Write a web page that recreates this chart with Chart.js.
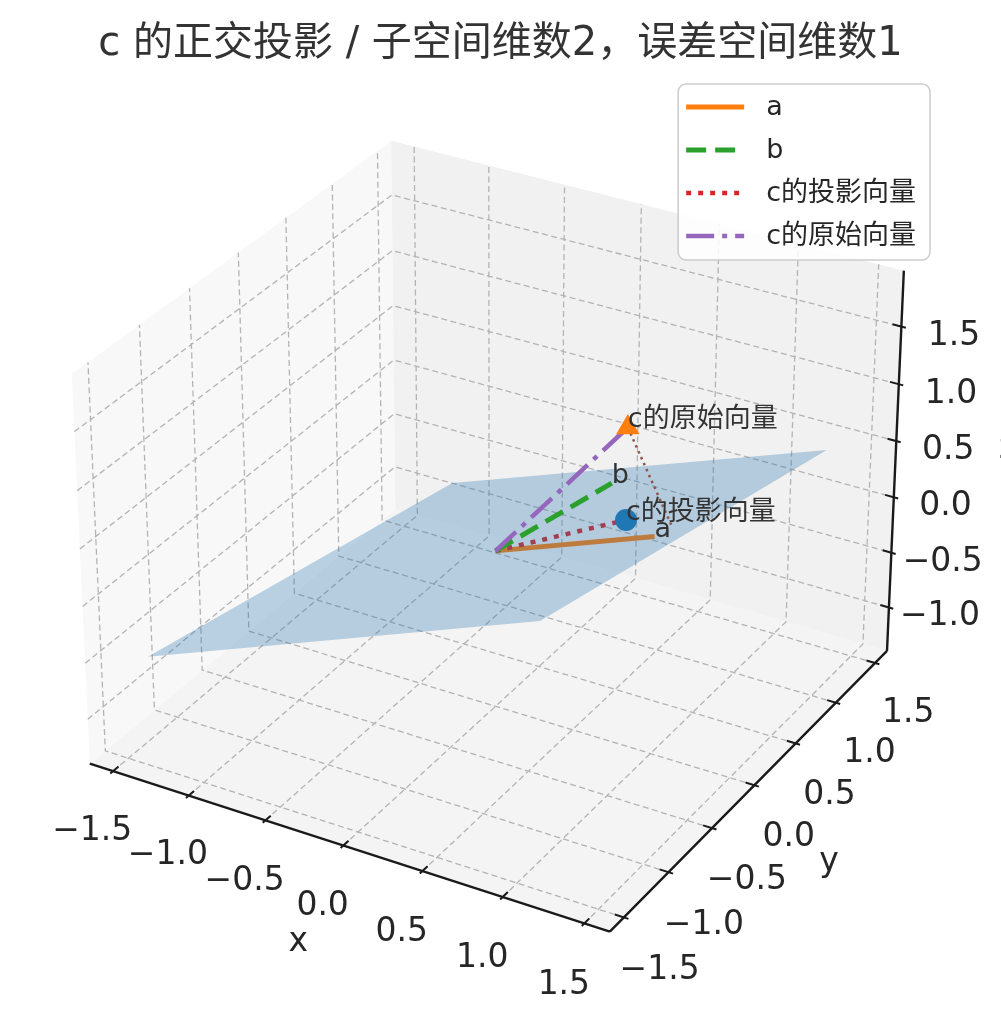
<!DOCTYPE html>
<html>
<head>
<meta charset="utf-8">
<script src="https://cdn.jsdelivr.net/npm/chart.js@4.4.1/dist/chart.umd.min.js"></script>
<style>
  html, body { margin: 0; padding: 0; background: #ffffff; }
  #wrap { width: 1001px; height: 1027px; }
</style>
</head>
<body>
<div id="wrap"><canvas id="myChart"></canvas></div>
<script>
// ---- values ----
const vecA = [0.71, 0.55, 0.03];
const vecB = [0.27, 0.85, 0.13];
const vecC = [0.60, 0.42, 1.03];
const projC = [0.50, 0.60, 0.06];
const dropFoot = [0.74, 0.69, 0.05];      // end of the thin dotted drop line from c
const planeSpanA = [-1.20, 1.20];         // s range of s*a + t*b
const planeSpanB = [-1.25, 1.25];         // t range

const xTicks = [-1.5, -1.0, -0.5, 0.0, 0.5, 1.0, 1.5];
const yTicks = [-1.5, -1.0, -0.5, 0.0, 0.5, 1.0, 1.5];
const zTicks = [-1.0, -0.5, 0.0, 0.5, 1.0, 1.5];
const xRange = [-1.655, 1.655];
const yRange = [-1.655, 1.655];
const zRange = [-1.40, 1.98];

const titleText = 'c 的正交投影 / 子空间维数2，误差空间维数1';
const legendLabels = ['a', 'b', 'c的投影向量', 'c的原始向量'];
const pointLabels = ['a', 'b', 'c的原始向量', 'c的投影向量'];
const axisNames = ['x', 'y', 'z'];

// ---- 3d view (matplotlib default: elev 30, azim -60, persp) ----
const FONT = "'DejaVu Sans', 'Noto Sans CJK SC', sans-serif";
const DEG = Math.PI / 180;
const ELEV = 30, AZIM = -60, DIST = 10;
const ranges = [xRange, yRange, zRange];
const aspectRaw = [4, 4, 3];
const aspectLen = Math.hypot(aspectRaw[0], aspectRaw[1], aspectRaw[2]);
const aspect = aspectRaw.map(v => v * 1.8294640721620434 / aspectLen);

function cross(a, b) { return [a[1]*b[2]-a[2]*b[1], a[2]*b[0]-a[0]*b[2], a[0]*b[1]-a[1]*b[0]]; }
function dot(a, b) { return a[0]*b[0] + a[1]*b[1] + a[2]*b[2]; }
function unit(a) { const n = Math.hypot(a[0], a[1], a[2]); return a.map(v => v / n); }

const W = [Math.cos(ELEV*DEG)*Math.cos(AZIM*DEG), Math.cos(ELEV*DEG)*Math.sin(AZIM*DEG), Math.sin(ELEV*DEG)];
const U = unit(cross([0, 0, 1], W));
const V = cross(W, U);

function project(p) {
  const q = p.map((v, i) => (v - ranges[i][0]) / (ranges[i][1] - ranges[i][0]) * aspect[i] - aspect[i] / 2);
  const den = DIST - dot(W, q);
  return { x: dot(U, q) / den, y: dot(V, q) / den };
}

// where the projected view sits on the canvas
const CANVAS_W = 1001, CANVAS_H = 1027, AREA_TOP = 69;
const VIEW_X0 = 495.5, VIEW_Y0 = 518, KX = 5214, KY = 5182;

function toXY(lines) {
  const out = [];
  lines.forEach((l, i) => {
    if (i) out.push({ x: null, y: null });
    l.forEach(p => out.push(project(p)));
  });
  return out;
}

const [x0, x1] = xRange, [y0, y1] = yRange, [z0, z1] = zRange;
const dlt = ranges.map(r => (r[1] - r[0]) / 12);

const paneFloor = [[x0,y0,z0],[x1,y0,z0],[x1,y1,z0],[x0,y1,z0],[x0,y0,z0]];
const paneLeft = [[x0,y0,z0],[x0,y1,z0],[x0,y1,z1],[x0,y0,z1],[x0,y0,z0]];
const paneBack = [[x0,y1,z0],[x1,y1,z0],[x1,y1,z1],[x0,y1,z1],[x0,y1,z0]];

const gridLines = [];
xTicks.forEach(t => gridLines.push([[t,y0,z0],[t,y1,z0],[t,y1,z1]]));
yTicks.forEach(t => gridLines.push([[x1,t,z0],[x0,t,z0],[x0,t,z1]]));
zTicks.forEach(t => gridLines.push([[x0,y0,t],[x0,y1,t],[x1,y1,t]]));

const axisLines = [
  [[x0,y0,z0],[x1,y0,z0]],
  [[x1,y0,z0],[x1,y1,z0]],
  [[x1,y1,z0],[x1,y1,z1]]
];

const tickLines = [];
xTicks.forEach(t => tickLines.push([[t, y0 - 0.1*dlt[1], z0], [t, y0 + 0.2*dlt[1], z0]]));
yTicks.forEach(t => tickLines.push([[x1 + 0.1*dlt[0], t, z0], [x1 - 0.2*dlt[0], t, z0]]));
zTicks.forEach(t => tickLines.push([[x1 + 0.1*dlt[0], y1, t], [x1 - 0.2*dlt[0], y1, t]]));

function comb(s, t) { return [0, 1, 2].map(i => s*vecA[i] + t*vecB[i]); }
const [sa0, sa1] = planeSpanA, [tb0, tb1] = planeSpanB;
const planePoly = [comb(sa0,tb0), comb(sa1,tb0), comb(sa1,tb1), comb(sa0,tb1), comb(sa0,tb0)];
const origin = [0, 0, 0];

function lineSet(lines, color, width, dash, extra) {
  return Object.assign({
    data: toXY(lines), showLine: true, borderColor: color, borderWidth: width,
    borderDash: dash, pointRadius: 0, pointHoverRadius: 0, fill: false, tension: 0,
    spanGaps: false, borderCapStyle: 'butt'
  }, extra || {});
}
function paneSet(poly, color) {
  return lineSet([poly], 'rgba(0,0,0,0)', 1, [], { fill: 'shape', backgroundColor: color });
}

const datasets = [
  paneSet(paneFloor, 'rgb(244,244,244)'),
  paneSet(paneLeft, 'rgb(248,248,248)'),
  paneSet(paneBack, 'rgb(241,241,241)'),
  lineSet(gridLines, '#b3b3b3', 1.3, [6, 3.5]),
  lineSet(axisLines, '#1a1a1a', 2.4, []),
  lineSet(tickLines, '#1a1a1a', 2, []),
  lineSet([[origin, vecA]], '#ff7f0e', 5, [], { legendRank: 0 }),
  lineSet([[origin, projC]], '#d62728', 4.5, [5, 7], { legendRank: 2 }),
  lineSet([planePoly], 'rgba(0,0,0,0)', 1, [], { fill: 'shape', backgroundColor: 'rgba(40,115,175,0.30)' }),
  lineSet([[origin, vecB]], '#2ca02c', 5, [20, 9], { legendRank: 1 }),
  lineSet([[origin, vecC]], '#9467bd', 4.5, [28, 8, 5, 8], { legendRank: 3 }),
  lineSet([[vecC, dropFoot]], '#8c564b', 2.5, [2.5, 4]),
  { data: [project(projC)], showLine: false, pointStyle: 'circle', pointRadius: 11, pointHoverRadius: 11,
    backgroundColor: '#1f77b4', borderWidth: 0 },
  { data: [project(vecC)], showLine: false, pointStyle: 'triangle', pointRadius: 13.5, pointHoverRadius: 13.5,
    backgroundColor: '#ff7f0e', borderWidth: 0 }
];
datasets.forEach((d, i) => { d.order = -i; });

function fmt(v) { return (v < 0 ? '\u2212' : '') + Math.abs(v).toFixed(1); }

const textPlugin = {
  id: 'axisText',
  afterDatasetsDraw(chart) {
    const ctx = chart.ctx, sx = chart.scales.x, sy = chart.scales.y;
    const px = p => { const q = project(p); return [sx.getPixelForValue(q.x), sy.getPixelForValue(q.y)]; };
    const f = 0.794, g = 1.725;
    ctx.save();
    ctx.fillStyle = '#262626';
    ctx.textAlign = 'center';
    ctx.textBaseline = 'alphabetic';
    const tickSize = 33;
    ctx.font = tickSize + 'px ' + FONT;
    const topText = (txt, p) => { const [x, y] = px(p); ctx.fillText(txt, x, y + 0.76*tickSize); };
    xTicks.forEach(t => topText(fmt(t), [t, y0 - f*dlt[1], z0 - f*dlt[2]]));
    yTicks.forEach(t => topText(fmt(t), [x1 + f*dlt[0], t, z0 - f*dlt[2]]));
    zTicks.forEach(t => topText(fmt(t), [x1 + f*dlt[0], y1 + f*dlt[1], t]));
    const midText = (txt, p) => { const [x, y] = px(p); ctx.fillText(txt, x, y + 0.262*tickSize); };
    midText(axisNames[0], [(x0 + x1)/2, y0 - g*dlt[1], z0 - g*dlt[2]]);
    midText(axisNames[1], [x1 + g*dlt[0], (y0 + y1)/2, z0 - g*dlt[2]]);
    midText(axisNames[2], [x1 + g*dlt[0], y1 + g*dlt[1], (z0 + z1)/2]);

    // labels beside the vector tips
    ctx.fillStyle = '#333333';
    ctx.textAlign = 'left';
    ctx.font = '27px ' + FONT;
    [vecA, vecB, vecC, projC].forEach((p, i) => {
      const [x, y] = px(p);
      ctx.fillText(pointLabels[i], x, y);
    });
    ctx.restore();
  },
  afterDraw(chart) {
    const ctx = chart.ctx;
    const items = chart.data.datasets.filter(d => d.legendRank !== undefined)
      .sort((a, b) => a.legendRank - b.legendRank);
    const fs = 27;
    ctx.save();
    ctx.font = fs + 'px ' + FONT;
    const maxW = Math.max(...legendLabels.map(t => ctx.measureText(t).width));
    const pad = 8, handle = 58, gap = 22, right = 930, top = 84, rowH = 43, firstY = 107;
    const width = pad + handle + gap + maxW + pad + 6;
    const left = right - width, height = 176;
    ctx.beginPath();
    ctx.roundRect(left, top, width, height, 8);
    ctx.fillStyle = 'rgba(255,255,255,0.85)';
    ctx.fill();
    ctx.lineWidth = 1.5;
    ctx.strokeStyle = '#cccccc';
    ctx.stroke();
    items.forEach((d, i) => {
      const y = firstY + i * rowH;
      ctx.beginPath();
      ctx.setLineDash(d.borderDash);
      ctx.lineCap = 'butt';
      ctx.strokeStyle = d.borderColor;
      ctx.lineWidth = d.borderWidth;
      ctx.moveTo(left + pad, y);
      ctx.lineTo(left + pad + handle, y);
      ctx.stroke();
      ctx.setLineDash([]);
      ctx.fillStyle = '#262626';
      ctx.textAlign = 'left';
      ctx.textBaseline = 'middle';
      ctx.fillText(legendLabels[d.legendRank], left + pad + handle + gap, y + 1);
    });
    ctx.restore();
  }
};

Chart.defaults.font.family = FONT;

const ctx = document.getElementById('myChart');
const chart = new Chart(ctx, {
  type: 'scatter',
  data: { datasets: datasets },
  options: {
    responsive: true,
    maintainAspectRatio: false,
    animation: false,
    events: [],
    layout: { padding: 0, autoPadding: false },
    plugins: {
      legend: { display: false },
      tooltip: { enabled: false },
      title: {
        display: true, text: titleText, color: '#333333',
        font: { size: 40, weight: 'normal', lineHeight: 1.2 },
        padding: { top: 21, bottom: 0 }
      }
    },
    scales: {
      x: { type: 'linear', display: false, min: -VIEW_X0 / KX, max: (CANVAS_W - VIEW_X0) / KX },
      y: { type: 'linear', display: false, min: (VIEW_Y0 - CANVAS_H) / KY, max: (VIEW_Y0 - AREA_TOP) / KY }
    }
  },
  plugins: [textPlugin]
});
</script>
</body>
</html>
